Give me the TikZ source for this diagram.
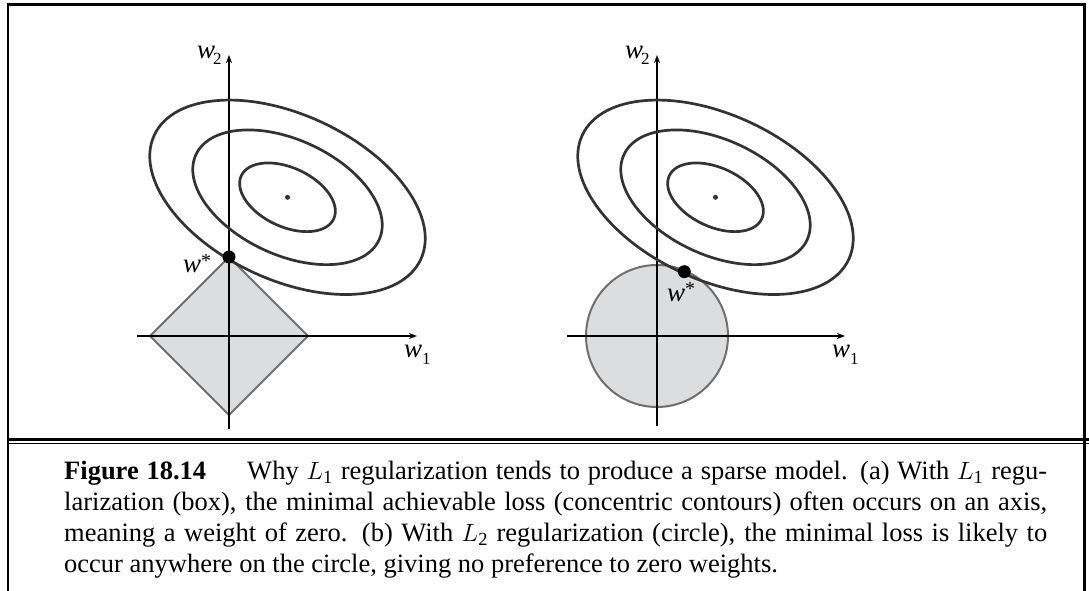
\documentclass[tikz,border=0pt]{standalone}
\usepackage{fontspec}
\setmainfont{Liberation Serif}
\usetikzlibrary{arrows.meta}
\definecolor{ink}{HTML}{333333}
\definecolor{regfill}{HTML}{DCDDDF}
\definecolor{regline}{HTML}{6E6E6E}
\newcommand{\Lsub}[1]{$L_{\hbox{\fontsize{18.5}{18.5}\selectfont$\mathrm{#1}$}}$}
\begin{document}
\begin{tikzpicture}[x=1pt,y=1pt,
  axis/.style={line width=1.5pt, -{Stealth[length=8pt,width=6pt]}},
  axisplain/.style={line width=1.5pt},
  contour/.style={line width=2.7pt, draw=ink},
  region/.style={fill=regfill, draw=regline, line width=2pt},
  optdot/.style={circle, fill=black, inner sep=0pt, minimum size=13pt},
  cdot/.style={circle, fill=ink, inner sep=0pt, minimum size=5pt},
  lbl/.style={inner sep=0pt, anchor=base west, font=\fontsize{27}{27}\selectfont\itshape},
  frameline/.style={draw=black}
]
\useasboundingbox (0,0) rectangle (1089,591);

% frame
\draw[frameline, line width=3pt] (6.5,586.5) -- (1085.7,586.5);
\draw[frameline, line width=2.2pt] (8,588) -- (8,0);
\draw[frameline, line width=2.8pt] (1084.3,588) -- (1084.3,0);
\draw[frameline, line width=2.5pt] (8,151.5) -- (1089,151.5);
\draw[frameline, line width=1.8pt] (8,147.5) -- (1089,147.5);

% ---------- left panel ----------
\coordinate (L-o) at (229,255);
\coordinate (L-top) at (229,334);
\coordinate (L-right) at (308,255);
\coordinate (L-bottom) at (229,176);
\coordinate (L-left) at (150,255);
\coordinate (L-yb) at (229,162);
\coordinate (L-yt) at (229,536);
\coordinate (L-xl) at (137,255);
\coordinate (L-xr) at (417,255);
\coordinate (L-c) at (287.5,393.7);

\draw[region] (L-top) -- (L-right) -- (L-bottom) -- (L-left) -- cycle;
\draw[axisplain] (L-yb) -- (L-o);
\draw[axis] (L-o) -- (L-yt);
\draw[axisplain] (L-xl) -- (L-o);
\draw[axis] (L-o) -- (L-xr);
\begin{scope}[shift={(L-c)}, rotate=-25]
  \draw[contour] (0,0) ellipse [x radius=51pt, y radius=29.5pt];
  \draw[contour] (0,0) ellipse [x radius=101pt, y radius=57.5pt];
  \draw[contour] (0,0) ellipse [x radius=147pt, y radius=82.5pt];
\end{scope}
\node[cdot] (L-cd) at (L-c) {};
\node[optdot] (L-opt) at (L-top) {};
\node[lbl] (L-w2) at (197,532) {w\kern-2pt\raisebox{-6pt}{\fontsize{17}{17}\selectfont\upshape 2}};
\node[lbl] (L-w1) at (404,233) {w\raisebox{-7pt}{\fontsize{17}{17}\selectfont\upshape 1}};
\node[lbl] (L-ws) at (183,318) {w\raisebox{5pt}{\fontsize{20}{20}\selectfont\upshape *}};

% ---------- right panel ----------
\coordinate (R-o) at (657,255);
\coordinate (R-yb) at (657,165);
\coordinate (R-yt) at (657,536);
\coordinate (R-xl) at (567,255);
\coordinate (R-xr) at (845,255);
\coordinate (R-c) at (715.5,393.7);
\coordinate (R-p) at (684.3,319.3);

\draw[region] (R-o) circle [radius=71pt];
\draw[axisplain] (R-yb) -- (R-o);
\draw[axis] (R-o) -- (R-yt);
\draw[axisplain] (R-xl) -- (R-o);
\draw[axis] (R-o) -- (R-xr);
\begin{scope}[shift={(R-c)}, rotate=-25]
  \draw[contour] (0,0) ellipse [x radius=51pt, y radius=29.5pt];
  \draw[contour] (0,0) ellipse [x radius=101pt, y radius=57.5pt];
  \draw[contour] (0,0) ellipse [x radius=147pt, y radius=82.5pt];
\end{scope}
\node[cdot] (R-cd) at (R-c) {};
\node[optdot] (R-opt) at (R-p) {};
\node[lbl] (R-w2) at (625,532) {w\kern-2pt\raisebox{-6pt}{\fontsize{17}{17}\selectfont\upshape 2}};
\node[lbl] (R-w1) at (832,233) {w\raisebox{-7pt}{\fontsize{17}{17}\selectfont\upshape 1}};
\node[lbl] (R-ws) at (667,289) {w\raisebox{6pt}{\fontsize{20}{20}\selectfont\upshape *}};

% ---------- caption ----------
\node[anchor=north west, inner sep=0pt, text width=983pt, align=justify,
      font=\fontsize{26.5}{31}\selectfont] (cap) at (64,131.5)
{\rule{0pt}{20pt}\textbf{Figure 18.14}\hspace{41pt}Why \Lsub{1} regularization tends to produce a sparse model. (a) With \Lsub{1} regu-\linebreak
larization (box), the minimal achievable loss (concentric contours) often occurs on an axis,\linebreak
meaning a weight of zero. (b) With \Lsub{2} regularization (circle), the minimal loss is likely to\linebreak
occur anywhere on the circle, giving no preference to zero weights.};
\end{tikzpicture}
\end{document}
